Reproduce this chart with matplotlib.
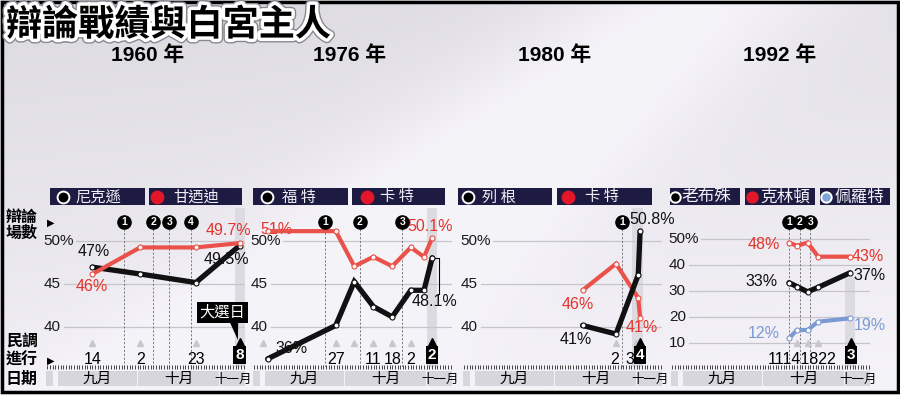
import numpy as np
import matplotlib.pyplot as plt
from matplotlib import patheffects as pe
from matplotlib import font_manager
from matplotlib.patches import Rectangle, Polygon
from matplotlib.lines import Line2D
from matplotlib.transforms import blended_transform_factory

# =====================================================================
# Data  (x = days counted from 1 Sep, y = poll share in %)
# =====================================================================
TITLE = "辯論戰績與白宮主人"
YEAR_LABELS = ["1960 年", "1976 年", "1980 年", "1992 年"]
CANDIDATES = [["尼克遜", "甘迺迪"], ["福 特", "卡 特"], ["列 根", "卡 特"],
              ["老布殊", "克林頓", "佩羅特"]]
MONTHS = ["九月", "十月", "十一月"]

# 1960
days_1960 = [13, 31, 52, 68.5]
nixon = [47, 46.2, 45.2, 49.5]
kennedy = [46.2, 49.3, 49.3, 49.8]
debates_1960 = [25, 36, 42, 50]
polls_1960 = [13, 31, 52]
poll_labels_1960 = ["14", "2", "23"]
election_1960 = 68.5

# 1976
days_1976 = [1, 26.7, 33.7, 40.9, 48, 55, 60, 63.1]
ford = [36.3, 40.2, 45.3, 42.4, 41.2, 44.3, 44.3, 48.1]
carter_1976 = [51.2, 51.2, 47.1, 48.2, 47.1, 49.3, 48.2, 50.4]
debates_1976 = [22.6, 35.8, 51.8]
polls_1976 = [-0.6, 26.7, 33.7, 40.9, 48, 55]
poll_label_days_1976 = [26.7, 40.9, 48, 55]
poll_labels_1976 = ["27", "11", "18", "2"]
election_1976 = 63.1

# 1980
days_1980 = [40.6, 53.2, 61.6, 62.3]
reagan = [40.2, 39.2, 46.1, 51.2]
carter_1980 = [44.3, 47.4, 43.4, 41.1]
debates_1980 = [55.4]
polls_1980 = [53.2, 60.8]
poll_label_days_1980 = [52.8, 58.5]
poll_labels_1980 = ["2", "3"]
election_1980 = 62.3

# 1992
days_1992 = [40, 43, 47, 51, 63]
bush = [33.2, 31.7, 29.7, 31.4, 37]
clinton = [48.6, 47.4, 48.6, 43.2, 43.2]
perot = [11.8, 15, 15, 18.2, 19.5]
debates_1992 = [40, 44, 48]
polls_1992 = [43, 47, 51]
poll_label_days_1992 = [45.1]
poll_labels_1992 = ["11141822"]
election_1992 = 63.3

# =====================================================================
# Style
# =====================================================================
W, H = 900, 395
PXD = 2.65                       # pixels per day
XMIN, XMAX = -4.6, 70.5
AX_TOP, AX_BOT = 208, 367

BLACK = "#111111"
RED = "#e9514a"
RED_TXT = "#e4332b"
BLUE = "#7b9ad3"
NAVY = "#1e1b42"
GRID = "#c6c5cc"
MONTH_BOX = "#d7d6dc"

names = {f.name for f in font_manager.fontManager.ttflist}
NARROW = "Liberation Sans Narrow" if "Liberation Sans Narrow" in names else "Liberation Sans"
plt.rcParams["font.family"] = ["Liberation Sans", "Noto Sans CJK TC", "DejaVu Sans"]
CJK = ["Noto Sans CJK TC", "DejaVu Sans"]


def fx(x):
    return x / W


def fy(y):
    return 1 - y / H


fig = plt.figure(figsize=(9, 3.95), dpi=100)

# soft grey background with a light diagonal streak
bg = fig.add_axes([0, 0, 1, 1], zorder=-10)
U, V = np.meshgrid(np.linspace(0, 1, 360), np.linspace(0, 1, 160))
streak = np.exp(-((U + 0.55 * V - 0.78) / 0.16) ** 2)
val = np.clip(0.87 + 0.08 * V + 0.08 * streak + 0.02 * U, 0, 0.965)
img = np.dstack([val - 0.005, val - 0.012, val + 0.01]).clip(0, 1)
bg.imshow(img, extent=[0, 1, 0, 1], aspect="auto", origin="upper")
bg.axis("off")

# outer frame
fig.add_artist(Rectangle((fx(1.5), fy(392)), fx(896.5), 390.5 / H, fill=False,
                         ec="black", lw=2.5, transform=fig.transFigure))

# title + years
fig.text(fx(6), fy(25), TITLE, family=CJK, fontsize=26, fontweight="bold",
         color="black", va="center", ha="left",
         path_effects=[pe.Stroke(linewidth=7, foreground="#8a8990"),
                       pe.Stroke(linewidth=5, foreground="white"), pe.Normal()])
for lab, xc in zip(YEAR_LABELS, [148, 350, 555, 780]):
    fig.text(fx(xc), fy(55), lab, fontsize=15, fontweight="bold",
             ha="center", va="center", color="black")

# left-hand row captions
for txt, yc in [("辯論", 217), ("場數", 233), ("民調", 341), ("進行", 360), ("日期", 379)]:
    fig.text(fx(6), fy(yc), txt, family=CJK, fontsize=11.5, fontweight="bold",
             ha="left", va="center", color="black")
fig.text(fx(47), fy(223), "▶", fontsize=7, family=["DejaVu Sans"], va="center")
fig.text(fx(47), fy(361), "▶", fontsize=7, family=["DejaVu Sans"], va="center")

# legend header boxes (pixel layout)
legend_boxes = [
    [(50, 145, 63, 75), (149, 242, 157, 173)],
    [(253, 348, 267, 282), (352, 445, 367, 380)],
    [(458, 552, 468, 482), (557, 652, 568, 585)],
    [(670, 740, 675, 681), (745, 815, 752, 760), (820, 890, 826, 835)],
]
marker_style = {
    "black": dict(mfc="black", mec="white"),
    "red": dict(mfc="#e3162a", mec="#e3162a"),
    "blue": dict(mfc="#7fa3dc", mec="white"),
}
series_keys = ["black", "red", "blue"]
for p, (boxes, cands) in enumerate(zip(legend_boxes, CANDIDATES)):
    for k, ((l, r, cx, tx), name) in enumerate(zip(boxes, cands)):
        fig.add_artist(Rectangle((fx(l), fy(205)), (r - l) / W, 17 / H,
                                 fc=NAVY, ec="none", transform=fig.transFigure))
        ms = 7.5 if p == 3 else 8.5
        fig.add_artist(Line2D([fx(cx)], [fy(196.5)], marker="o", ms=ms, mew=1.4,
                              transform=fig.transFigure, **marker_style[series_keys[k]]))
        fig.text(fx(tx), fy(197), name, family=CJK, fontsize=12 if p == 3 else 11,
                 color="#f0eff6", ha="left", va="center")

# =====================================================================
# Panels
# =====================================================================
panels = [
    dict(s0=58, ylim=(35.35, 53.9), ticks=[(50, "50%"), (45, "45"), (40, "40")],
         series=[(days_1960, nixon, BLACK, 3.8), (days_1960, kennedy, RED, 3.0)],
         debates=debates_1960, polls=polls_1960,
         plabels=list(zip(polls_1960, poll_labels_1960)),
         election=election_1960, elabel="8", band=(66.8, 71.7, 1.0),
         labels=[(13.4, 48.8, "47%", BLACK, "center"),
                 (12.6, 44.8, "46%", RED_TXT, "center"),
                 (64.2, 51.3, "49.7%", RED_TXT, "center"),
                 (63.4, 47.85, "49.5%", BLACK, "center")]),
    dict(s0=265, ylim=(35.35, 53.9), ticks=[(50, "50%"), (45, "45"), (40, "40")],
         series=[(days_1976, ford, BLACK, 3.8), (days_1976, carter_1976, RED, 3.0)],
         debates=debates_1976, polls=polls_1976,
         plabels=list(zip(poll_label_days_1976, poll_labels_1976)),
         election=election_1976, elabel="2", band=(61.1, 64.9, 1.0),
         labels=[(4.2, 51.45, "51%", RED_TXT, "center"),
                 (10.0, 37.5, "36%", BLACK, "center"),
                 (62.5, 51.7, "50.1%", RED_TXT, "center"),
                 (63.8, 43.0, "48.1%", BLACK, "center")]),
    dict(s0=475, ylim=(35.35, 53.9), ticks=[(50, "50%"), (45, "45"), (40, "40")],
         series=[(days_1980, carter_1980, RED, 3.0), (days_1980, reagan, BLACK, 3.8)],
         debates=debates_1980, polls=polls_1980,
         plabels=list(zip(poll_label_days_1980, poll_labels_1980)),
         election=election_1980, elabel="4", band=(59.2, 63.4, 1.0),
         labels=[(58.2, 52.5, "50.8%", BLACK, "left"),
                 (38.7, 42.65, "46%", RED_TXT, "center"),
                 (38.1, 38.5, "41%", BLACK, "center"),
                 (63.0, 39.9, "41%", RED_TXT, "center")]),
    dict(s0=683, ylim=(0.77, 61.92),
         ticks=[(50, "50%"), (40, "40"), (30, "30"), (20, "20"), (10, "10")],
         series=[(days_1992, clinton, RED, 3.0), (days_1992, bush, BLACK, 3.8),
                 (days_1992, perot, BLUE, 3.0)],
         debates=debates_1992, polls=polls_1992,
         plabels=list(zip(poll_label_days_1992, poll_labels_1992)),
         election=election_1992, elabel="3", band=(61.1, 64.9, 0.566),
         labels=[(30.6, 47.7, "48%", RED_TXT, "center"),
                 (69.8, 43.2, "43%", RED_TXT, "center"),
                 (29.8, 33.6, "33%", BLACK, "center"),
                 (70.4, 35.8, "37%", BLACK, "center"),
                 (30.6, 13.7, "12%", BLUE, "center"),
                 (70.4, 16.9, "19%", BLUE, "center")]),
]

for p, cfg in enumerate(panels):
    left = cfg["s0"] + XMIN * PXD
    width = (XMAX - XMIN) * PXD
    ax = fig.add_axes([fx(left), fy(AX_BOT), width / W, (AX_BOT - AX_TOP) / H])
    ax.set_xlim(XMIN, XMAX)
    ax.set_ylim(*cfg["ylim"])
    ax.patch.set_alpha(0)
    for sp in ax.spines.values():
        sp.set_visible(False)
    ax.set_yticks([])
    ax.set_xticks(np.arange(-4, 71))
    ax.tick_params(axis="x", length=3, width=0.7, color="#444", direction="inout",
                   labelbottom=False)
    trans = blended_transform_factory(ax.transData, ax.transAxes)

    # election-day band
    b0, b1, btop = cfg["band"]
    ax.axvspan(b0, b1, ymin=0, ymax=btop, color="#dcdbe1", zorder=0, lw=0)

    # grid + y labels
    for val, lab in cfg["ticks"]:
        start = 0.15 if "%" in lab else 0.09
        ax.axhline(val, xmin=start, xmax=1, color=GRID, lw=0.9, zorder=1)
        ax.text(-0.01, val, lab, transform=blended_transform_factory(ax.transAxes, ax.transData),
                fontsize=11, ha="left", va="center", color="#1a1a1a")

    # debate markers
    for i, d in enumerate(cfg["debates"]):
        ax.plot([d, d], [0, 0.9], transform=trans, color="#7a7a7a", lw=0.7,
                dashes=(2.2, 1.8), zorder=1)
        ax.plot([d], [0.912], transform=trans, marker="o", ms=9.5, color="black",
                zorder=6, clip_on=False)
        ax.text(d, 0.912, str(i + 1), transform=trans, color="white", fontsize=7.5,
                fontweight="bold", ha="center", va="center", zorder=7)

    # poll triangles and poll dates
    ax.plot(cfg["polls"], [0.151] * len(cfg["polls"]), transform=trans, ls="",
            marker="^", ms=4, color="#c8c7cd", zorder=1)
    for d, lab in cfg["plabels"]:
        ax.text(d, 0.05, lab, transform=trans, family=[NARROW, "DejaVu Sans"],
                fontsize=11.5, ha="center", va="center", color="black", zorder=3)

    # election day box
    e = cfg["election"]
    ax.plot([e], [0.158], transform=trans, marker="^", ms=6, color="black", zorder=6)
    ax.text(e, 0.075, cfg["elabel"], transform=trans, color="white", fontsize=11,
            fontweight="bold", ha="center", va="center", zorder=7,
            bbox=dict(boxstyle="square,pad=0.12", fc="black", ec="none"))

    # percentage labels
    for d, v, lab, col, ha in cfg["labels"]:
        ax.text(d, v, lab, fontsize=11.5, color=col, ha=ha, va="center", zorder=3)

    # series
    for days, vals, col, lw in cfg["series"]:
        ax.plot(days, vals, color=col, lw=lw, solid_capstyle="round",
                solid_joinstyle="miter", zorder=4)
        ax.plot(days, vals, ls="", marker="o", ms=3.6, mfc="white", mec=col,
                mew=0.8, zorder=5)

    if p == 0:
        ax.text(62.1, 0.343, "大選日", transform=trans, family=CJK, color="white",
                fontsize=11, ha="center", va="center", zorder=7,
                bbox=dict(boxstyle="square,pad=0.15", fc="black", ec="none"))
        ax.add_patch(Polygon([(64.6, 0.29), (68.0, 0.29), (67.9, 0.17)],
                             closed=True, fc="black", ec="none", transform=trans,
                             zorder=6))
    if p == 1:
        ax.plot([63.1, 65.5, 65.5], [48.1, 48.1, 43.9], color="black", lw=0.8, zorder=3)

    # month bar
    mx = fig.add_axes([fx(left), fy(386), width / W, 15 / H])
    mx.set_xlim(XMIN, XMAX)
    mx.set_ylim(0, 1)
    mx.axis("off")
    spans = [(-4.6, -1.9), (0, 29.7), (30.3, 60.7), (61.3, 70.5)]
    for a, b in spans:
        mx.axvspan(a, b, color=MONTH_BOX, lw=0)
    for (a, b), m in zip(spans[1:], MONTHS):
        mx.text((a + b) / 2, 0.47, m, family=CJK, fontsize=9 if m == "十一月" else 10.5,
                ha="center", va="center", color="black")

fig.savefig("out.png", dpi=100)
